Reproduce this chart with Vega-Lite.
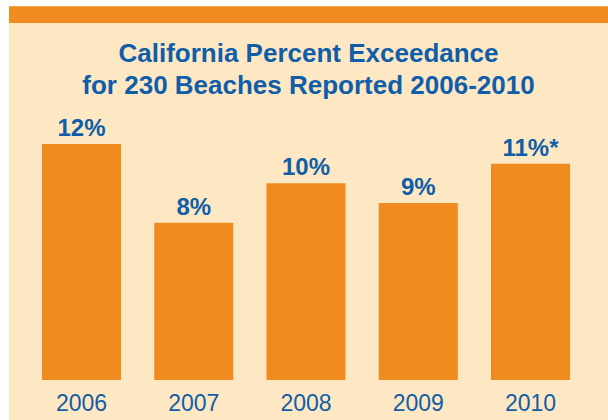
{
  "$schema": "https://vega.github.io/schema/vega-lite/v6.json",
  "width": 599,
  "height": 413,
  "autosize": {"type": "none"},
  "padding": {"left": 9, "top": 7, "right": 0, "bottom": 0},
  "background": "#FFFFFF",
  "title": {
    "text": ["California Percent Exceedance", "for 230 Beaches Reported 2006-2010"],
    "orient": "top",
    "anchor": "middle",
    "offset": -90,
    "dy": 2,
    "font": "Liberation Sans",
    "fontSize": 26,
    "fontWeight": "bold",
    "color": "#105DA8",
    "lineHeight": 32
  },
  "data": {
    "values": [
      {"year": "2006", "pct": 12, "label": "12%"},
      {"year": "2007", "pct": 8, "label": "8%"},
      {"year": "2008", "pct": 10, "label": "10%"},
      {"year": "2009", "pct": 9, "label": "9%"},
      {"year": "2010", "pct": 11, "label": "11%*"}
    ]
  },
  "layer": [
    {
      "mark": {"type": "rect", "color": "#EF8B1F"},
      "encoding": {
        "y": {"datum": 18.97, "type": "quantitative", "scale": {"domain": [-2.034, 18.963], "nice": false, "zero": false}, "axis": null},
        "y2": {"datum": 18.165}
      }
    },
    {
      "mark": {"type": "bar", "color": "#EF8B1F"},
      "encoding": {
        "x": {
          "field": "year",
          "type": "nominal",
          "scale": {"paddingInner": 0.296, "paddingOuter": 0.316, "align": 0.465},
          "axis": {
            "title": null,
            "orient": "bottom",
            "offset": -40,
            "domain": false,
            "ticks": false,
            "grid": false,
            "labelAngle": 0,
            "labelPadding": 12,
            "labelBaseline": "top",
            "labelFont": "Liberation Sans",
            "labelFontSize": 23,
            "labelFontWeight": "normal",
            "labelColor": "#105DA8"
          }
        },
        "y": {"field": "pct", "type": "quantitative"}
      }
    },
    {
      "mark": {"type": "text", "baseline": "alphabetic", "dy": -8, "font": "Liberation Sans", "fontSize": 24, "fontWeight": "bold", "color": "#105DA8"},
      "encoding": {
        "x": {"field": "year", "type": "nominal"},
        "y": {"field": "pct", "type": "quantitative"},
        "text": {"field": "label"}
      }
    }
  ],
  "config": {
    "view": {"fill": "#FEE8C4", "stroke": null},
    "axis": {"grid": false}
  }
}
